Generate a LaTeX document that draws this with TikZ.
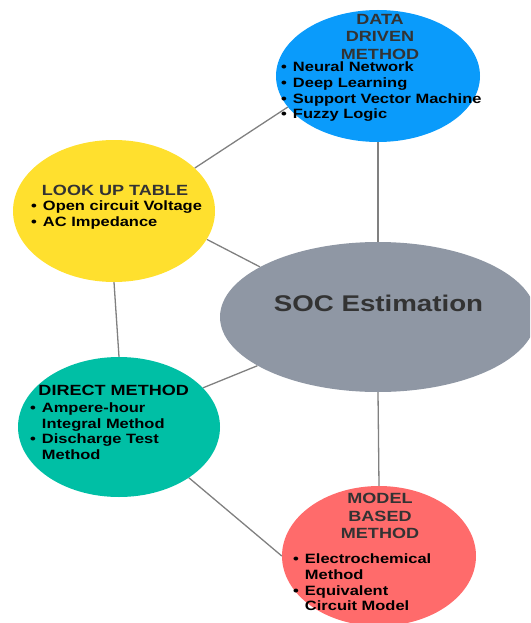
\documentclass[tikz,border=0pt]{standalone}
\usepackage{fontspec}
\setmainfont{Liberation Sans}[FakeStretch=1.22]
\usetikzlibrary{shapes.geometric,backgrounds}

\definecolor{dataC}{HTML}{0A9BFB}
\definecolor{tableC}{HTML}{FFE02E}
\definecolor{directC}{HTML}{00BFA5}
\definecolor{modelC}{HTML}{FF6B6B}
\definecolor{socC}{HTML}{8F97A4}
\definecolor{linkC}{HTML}{808080}
\definecolor{headC}{HTML}{333333}

\tikzset{
  bubble/.style={ellipse, inner sep=0pt, draw=none},
  link/.style={draw=linkC, line width=1.3pt},
  head/.style={align=center, inner sep=0pt, anchor=north, text=headC,
    font=\fontsize{14.8}{17.5}\selectfont\bfseries},
  items/.style={inner sep=0pt, anchor=north west,
    font=\fontsize{13.5}{15.7}\selectfont\bfseries},
}
\newcommand{\blist}[1]{\begin{tabular}{@{}l@{\hspace{6pt}}l@{}}#1\end{tabular}}

\begin{document}
\begin{tikzpicture}[x=1pt,y=-1pt]
\path[use as bounding box, clip] (0,0) rectangle (530,623);

% ellipses
\node[bubble, fill=dataC,   minimum width=204, minimum height=132] (data)   at (378,76)  {};
\node[bubble, fill=tableC,  minimum width=202, minimum height=142] (table)  at (114,211) {};
\node[bubble, fill=socC,    minimum width=316, minimum height=150] (soc)    at (378,317) {};
\node[bubble, fill=directC, minimum width=202, minimum height=140] (direct) at (119,427) {};
\node[bubble, fill=modelC,  minimum width=194, minimum height=140] (model)  at (379,556) {};

% connectors behind the ellipses
\begin{scope}[on background layer]
  \draw[link] (table.28)  -- (data.199);
  \draw[link] (table.-17) -- (soc.157);
  \draw[link] (data.south) -- (soc.north);
  \draw[link] (table.south) -- (direct.north);
  \draw[link] (direct.25) -- (soc.202);
  \draw[link] (direct.-36) -- (model.180);
  \draw[link] (soc.south) -- (model.north);
\end{scope}

% centre label
\node[inner sep=0pt, anchor=north, text=headC,
  font=\fontsize{22.7}{26}\selectfont\bfseries] (socT) at (378.5,295) {SOC Estimation};

% data driven
\node[head] (dataT) at (380,14) {DATA\\DRIVEN\\METHOD};
\node[items] (dataL) at (281,60.7) {\blist{•&Neural Network\\•&Deep Learning\\•&Support Vector Machine\\•&Fuzzy Logic}};

% look up table
\node[head] (tableT) at (115,185) {LOOK UP TABLE};
\node[items] (tableL) at (31,199.4) {\blist{•&Open circuit Voltage\\•&AC Impedance}};

% direct method
\node[head, text=black] (directT) at (113.7,385) {DIRECT METHOD};
\node[items] (directL) at (30,401.4) {\blist{•&Ampere-hour\\&Integral Method\\•&Discharge Test\\&Method}};

% model based
\node[head] (modelT) at (380,493) {MODEL\\BASED\\METHOD};
\node[items] (modelL) at (293,552.7) {\blist{•&Electrochemical\\&Method\\•&Equivalent\\&Circuit Model}};
\end{tikzpicture}
\end{document}
